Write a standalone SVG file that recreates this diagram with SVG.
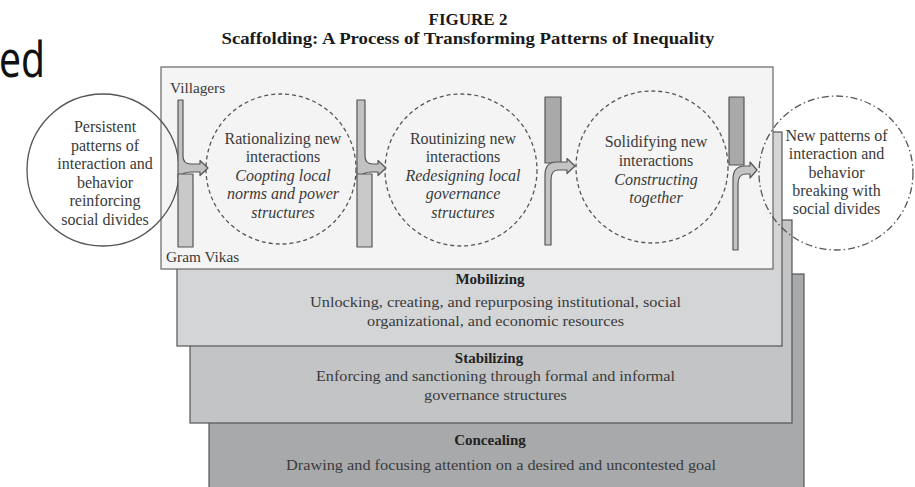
<svg xmlns="http://www.w3.org/2000/svg" width="915" height="487" viewBox="0 0 915 487">
<style>
.t{font-family:"Liberation Serif","Times New Roman",serif;fill:#3a3a3a}
.c{font-size:16px;text-anchor:middle}
.i{font-style:italic}
.p{font-size:15.5px;text-anchor:middle}
.h{font-size:15px;font-weight:bold;text-anchor:middle;fill:#222}
.lab{font-size:15.3px}
.panel{stroke:#555;stroke-width:1.2}
.dash{fill:none;stroke:#555;stroke-width:1.3;stroke-dasharray:4 3}
.dd{fill:none;stroke:#555;stroke-width:1.3;stroke-dasharray:7 3 1.5 3}
.bar{stroke:#555;stroke-width:1.2;stroke-linejoin:round}
</style>
<rect width="915" height="487" fill="#fff"/>
<text x="-1" y="77" font-family="Noto Sans,Open Sans,sans-serif" font-size="50" fill="#111" textLength="46" lengthAdjust="spacingAndGlyphs">ed</text>
<g id="title">
<text x="468" y="25" font-family="Liberation Serif,serif" font-size="17" font-weight="bold" text-anchor="middle" fill="#1a1a1a">FIGURE 2</text>
<text x="468" y="44" font-family="Liberation Serif,serif" font-size="16" font-weight="bold" text-anchor="middle" fill="#1a1a1a" textLength="493" lengthAdjust="spacingAndGlyphs">Scaffolding: A Process of Transforming Patterns of Inequality</text>
</g>
<g id="concealing">
<rect class="panel" x="209" y="274" width="595" height="220" fill="#a8a9ab"/>
<text class="t h" x="490" y="445">Concealing</text>
<text class="t p" x="501" y="470" textLength="430" lengthAdjust="spacingAndGlyphs">Drawing and focusing attention on a desired and uncontested goal</text>
</g>
<g id="stabilizing">
<rect class="panel" x="190" y="220" width="602" height="203" fill="#c3c4c6"/>
<text class="t h" x="489" y="363">Stabilizing</text>
<text class="t p" x="495.5" y="381" textLength="359" lengthAdjust="spacingAndGlyphs">Enforcing and sanctioning through formal and informal</text>
<text class="t p" x="495.5" y="400" textLength="143" lengthAdjust="spacingAndGlyphs">governance structures</text>
</g>
<g id="mobilizing">
<rect class="panel" x="177" y="132" width="605" height="214" fill="#d4d5d7"/>
<text class="t h" x="490" y="284">Mobilizing</text>
<text class="t p" x="495.5" y="307" textLength="371" lengthAdjust="spacingAndGlyphs">Unlocking, creating, and repurposing institutional, social</text>
<text class="t p" x="495.5" y="326" textLength="257" lengthAdjust="spacingAndGlyphs">organizational, and economic resources</text>
</g>
<g id="interaction-panel">
<rect x="161" y="67" width="612" height="202" fill="#f4f4f4" stroke="#666" stroke-width="1.2"/>
<text class="t lab" x="170" y="93">Villagers</text>
<text class="t lab" x="166" y="262">Gram Vikas</text>
</g>
<g id="persistent">
<circle cx="103" cy="170" r="76" fill="none" stroke="#555" stroke-width="1.3"/>
<text class="t c" x="105" y="132">Persistent</text>
<text class="t c" x="105" y="150.5">patterns of</text>
<text class="t c" x="105" y="169">interaction and</text>
<text class="t c" x="105" y="187.5">behavior</text>
<text class="t c" x="105" y="206">reinforcing</text>
<text class="t c" x="105" y="224.5">social divides</text>
</g>
<g id="rationalizing">
<circle class="dash" cx="281" cy="169" r="75"/>
<text class="t c" x="283" y="143.5">Rationalizing new</text>
<text class="t c" x="283" y="162">interactions</text>
<text class="t c i" x="283" y="180.5">Coopting local</text>
<text class="t c i" x="283" y="199">norms and power</text>
<text class="t c i" x="283" y="217.5">structures</text>
</g>
<g id="routinizing">
<circle class="dash" cx="461" cy="170" r="76"/>
<text class="t c" x="463" y="143.5">Routinizing new</text>
<text class="t c" x="463" y="162">interactions</text>
<text class="t c i" x="463" y="180.5">Redesigning local</text>
<text class="t c i" x="463" y="199">governance</text>
<text class="t c i" x="463" y="217.5">structures</text>
</g>
<g id="solidifying">
<circle class="dash" cx="652" cy="167" r="76"/>
<text class="t c" x="656" y="147">Solidifying new</text>
<text class="t c" x="656" y="166">interactions</text>
<text class="t c i" x="656" y="184.5">Constructing</text>
<text class="t c i" x="656" y="203">together</text>
</g>
<g id="new-patterns">
<circle class="dd" cx="836" cy="173" r="77"/>
<text class="t c" x="836.5" y="141">New patterns of</text>
<text class="t c" x="836.5" y="159">interaction and</text>
<text class="t c" x="836.5" y="177.5">behavior</text>
<text class="t c" x="836.5" y="196">breaking with</text>
<text class="t c" x="836.5" y="214">social divides</text>
</g>
<g id="connectors">
<path class="bar" fill="#c2c2c2" d="M178,100 H183 V156 Q183,164 191,164 H200 V160.5 L208,168 L200,175.5 V172 H191 Q182,172 180,178 H178 Z"/>
<rect class="bar" x="178" y="174" width="15" height="73" fill="#c9c9c9"/>
<path class="bar" fill="#c2c2c2" d="M357,100 H365 V156 Q365,164 373,164 H378 V160.5 L386,168 L378,175.5 V172 H372 Q362,172 360,178 H357 Z"/>
<rect class="bar" x="357" y="174" width="15" height="73" fill="#c9c9c9"/>
<rect class="bar" x="545" y="97" width="16" height="66" fill="#a9a9a9"/>
<path class="bar" fill="#c4c4c4" d="M545,245 V175 Q545,162 557,162 H567 V158.5 L575,166 L567,173.5 V170 H558 Q551,170 551,180 V245 Z"/>
<rect class="bar" x="729" y="97" width="15" height="68" fill="#a9a9a9"/>
<path class="bar" fill="#c4c4c4" d="M733,250 V179 Q733,166 745,166 H750 V162 L757,170 L750,178 V174 H746 Q738,174 738,184 V250 Z"/>
</g>
</svg>
